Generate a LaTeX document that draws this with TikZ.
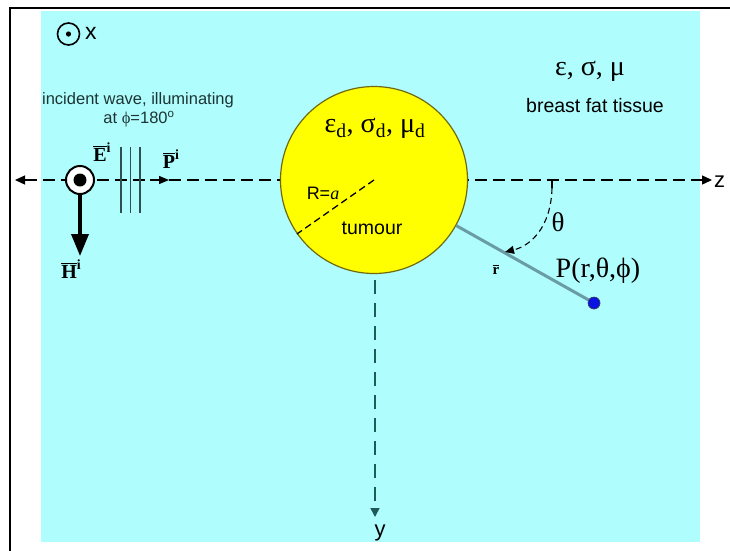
\documentclass[tikz,border=0pt]{standalone}
\usepackage{fontspec}
\setmainfont{Liberation Serif}
\newfontfamily\arialf{Liberation Sans}
\usetikzlibrary{arrows.meta}
\definecolor{bgcyan}{HTML}{AFFDFD}
\definecolor{tumyel}{HTML}{FFFF00}
\definecolor{tumedge}{HTML}{6E6A10}
\definecolor{ycol}{HTML}{1F5A5A}
\definecolor{rcol}{HTML}{6A9CA6}
\definecolor{wavecol}{HTML}{2F5050}
\definecolor{pblue}{HTML}{0A14E0}
\definecolor{txtcol}{HTML}{1E3434}
\newsavebox{\barbox}
\newcommand{\barred}[1]{\sbox{\barbox}{#1}\rlap{\raisebox{\dimexpr\ht\barbox+1.6pt\relax}{\rule{\wd\barbox}{1.1pt}}}\usebox{\barbox}}
\newcommand{\vecsup}[1]{\textbf{\barred{#1}\raisebox{0.45em}{\fontsize{14}{14}\selectfont i}}}
\tikzset{
  sanslbl/.style={font=\arialf\fontsize{#1}{#1}\selectfont, inner sep=0pt},
  seriflbl/.style={font=\fontsize{#1}{#1}\selectfont, inner sep=0pt},
  axisline/.style={line width=1.3pt, dash pattern=on 12pt off 6pt},
}
\begin{document}
\begin{tikzpicture}[x=1pt,y=-1pt]
\useasboundingbox (0,0) rectangle (730,550);
\fill[bgcyan] (41,11) rectangle (700,542);
\draw[line width=2.5pt] (10,551) -- (10,8) -- (731,8);

% z axis
\coordinate (zl) at (15,180);
\coordinate (zr) at (712,180);
\draw[axisline, {Triangle[length=10pt,width=9pt]}-{Triangle[length=10pt,width=9pt]}] (zl) -- (zr);
\node[sanslbl=22, anchor=west] (zlab) at (714,182) {z};

% P^i arrowhead
\coordinate (pa0) at (150,180);
\coordinate (pa1) at (169,180);
\draw[line width=1.3pt, -{Triangle[length=10pt,width=8pt]}] (pa0) -- (pa1);

% wave fronts
\foreach \xx/\nm in {121/wa,130.5/wb,140/wc}{
  \coordinate (\nm1) at (\xx,147);
  \coordinate (\nm2) at (\xx,213);
  \draw[wavecol, line width=1.6pt] (\nm1) -- (\nm2);
}

% incident wave symbol
\node[circle, draw, line width=2pt, fill=white, minimum size=28pt, inner sep=0pt] (inc) at (80,180) {};
\fill (inc.center) circle (6.5);
\coordinate (hend) at (80,256);
\draw[line width=3.5pt, -{Triangle[length=22pt,width=17pt]}] (inc.south) -- (hend);

% x out of page
\node[circle, draw, line width=1.6pt, minimum size=22pt, inner sep=0pt] (xc) at (68.5,34) {};
\fill (xc.center) circle (2.6);
\node[sanslbl=23, anchor=west] (xlab) at (85,33) {x};

% labels of the incident wave
\node[sanslbl=16.5, text=txtcol] (iw1) at (138,100) {incident wave, illuminating};
\node[sanslbl=16.5, text=txtcol] (iw2) at (139,119) {at {\rmfamily ϕ}=180\textsuperscript{o}};
\node[seriflbl=20] (elab) at (102,152) {\vecsup{E}};
\node[seriflbl=20] (plab) at (171,159) {\vecsup{P}};
\node[seriflbl=20] (hlab) at (71,269) {\vecsup{H}};

% y axis
\coordinate (ys) at (375,280);
\coordinate (ye) at (375,517);
\draw[ycol, line width=1.4pt, dash pattern=on 14pt off 9pt, -{Triangle[length=9pt,width=9pt]}] (ys) -- (ye);
\node[sanslbl=22] (ylab) at (380,533) {y};

% tumour
\node[circle, draw=tumedge, fill=tumyel, line width=1.2pt, minimum size=187pt, inner sep=0pt] (tum) at (374,180) {};
\draw[line width=1.3pt, dash pattern=on 7pt off 4pt] (tum.center) -- (tum.215);
\node[seriflbl=28] (epsd) at (375,128) {ε\textsubscript{d}, σ\textsubscript{d}, μ\textsubscript{d}};
\node[sanslbl=18] (rlab) at (323,193) {R=\textit{\rmfamily a}};
\node[sanslbl=19.5] (tumlab) at (372,228) {tumour};

% medium labels
\node[seriflbl=28] (epsm) at (590,71) {ε, σ, μ};
\node[sanslbl=19.5] (fat) at (595,106) {breast fat tissue};

% observation point
\node[circle, draw=black!70, fill=pblue, line width=0.5pt, minimum size=12pt, inner sep=0pt] (pdot) at (594,303) {};
\draw[rcol, line width=3pt] (tum.-29.2) -- (pdot.center);
\node[circle, draw=black!70, fill=pblue, line width=0.5pt, minimum size=12pt, inner sep=0pt] at (pdot.center) {};
\node[seriflbl=28] (plbl) at (598,271) {P(r,θ,ϕ)};
\node[seriflbl=15] (rbar) at (496,270) {\textbf{\barred{r}}};

% theta
\coordinate (th0) at (552,180);
\coordinate (th1) at (552,188);
\coordinate (th2) at (505,252);
\draw[line width=1.1pt] (th0) -- (th1);
\draw[line width=1.1pt, dash pattern=on 6pt off 4pt, -{Triangle[length=9pt,width=8pt]}] (th1) .. controls (551,228) and (530,246) .. (th2);
\node[seriflbl=27] (thlab) at (558,222) {θ};
\end{tikzpicture}
\end{document}
